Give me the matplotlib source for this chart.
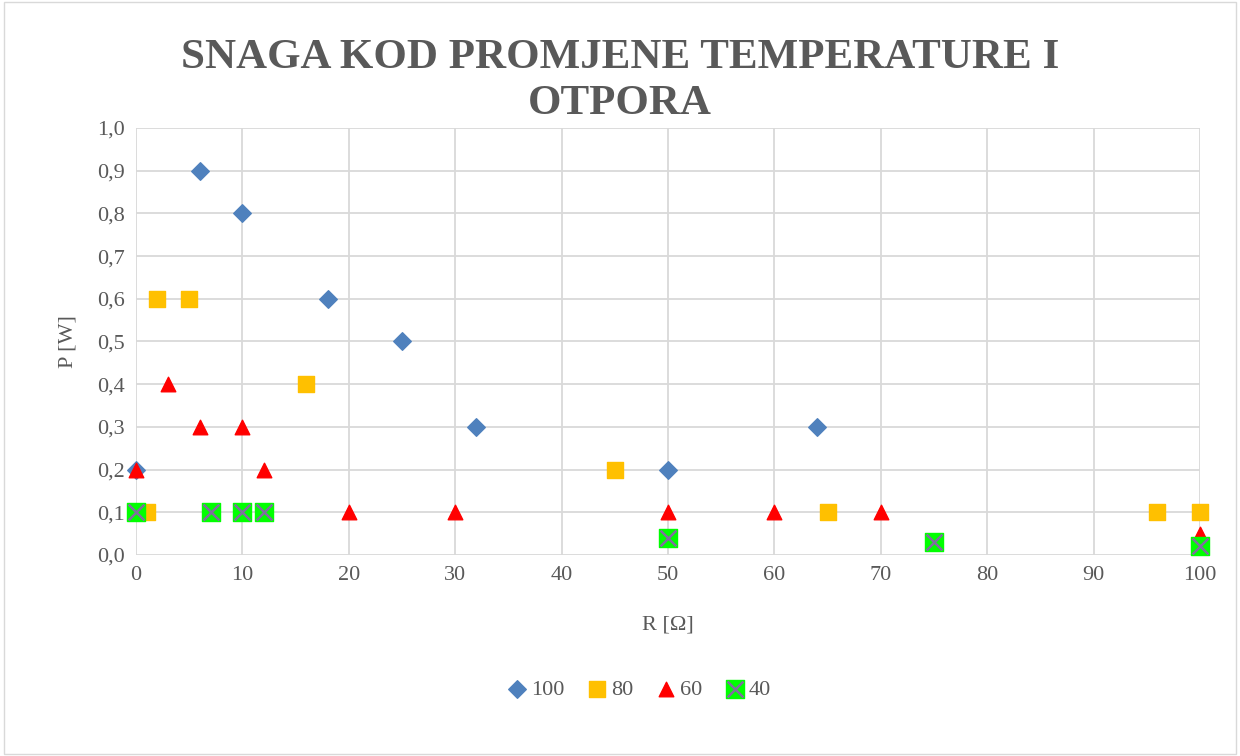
import numpy as np
import matplotlib
matplotlib.use('Agg')
import matplotlib.pyplot as plt
from matplotlib.ticker import FuncFormatter, MultipleLocator
from matplotlib.legend_handler import HandlerTuple

# ============================================================
# DATA
# ============================================================
r_100 = [0, 6, 10, 18, 25, 32, 50, 64]
p_100 = [0.2, 0.9, 0.8, 0.6, 0.5, 0.3, 0.2, 0.3]

r_80 = [1, 2, 5, 16, 45, 65, 96, 100]
p_80 = [0.1, 0.6, 0.6, 0.4, 0.2, 0.1, 0.1, 0.1]

r_60 = [0, 3, 6, 10, 12, 20, 30, 50, 60, 70, 100]
p_60 = [0.2, 0.4, 0.3, 0.3, 0.2, 0.1, 0.1, 0.1, 0.1, 0.1, 0.05]

r_40 = [0, 7, 10, 12, 50, 75, 100]
p_40 = [0.1, 0.1, 0.1, 0.1, 0.04, 0.03, 0.02]

series_labels = ['100', '80', '60', '40']

# ============================================================
# PLOT
# ============================================================
plt.rcParams['font.family'] = ['Liberation Serif', 'DejaVu Serif']
text_col = '#595959'
grid_col = '#d9d9d9'

fig = plt.figure(figsize=(12.4, 7.56), dpi=100)
ax = fig.add_axes([0.1097, 0.2659, 0.858, 0.5648])

h100 = ax.scatter(r_100, p_100, marker='D', s=80, color='#4f81bd', zorder=3, clip_on=False)
h80 = ax.scatter(r_80, p_80, marker='s', s=140, color='#ffc000', zorder=4, clip_on=False)
h60 = ax.scatter(r_60, p_60, marker='^', s=110, color='#ff0000', zorder=5, clip_on=False)
h40a = ax.scatter(r_40, p_40, marker='s', s=165, color='#00ff00', zorder=6, clip_on=False)
h40b = ax.scatter(r_40, p_40, marker='x', s=130, color='#7f6f9f',
                  linewidths=1.8, zorder=7, clip_on=False)

ax.set_xlim(0, 100)
ax.set_ylim(0, 1.0)
ax.xaxis.set_major_locator(MultipleLocator(10))
ax.yaxis.set_major_locator(MultipleLocator(0.1))
ax.yaxis.set_major_formatter(FuncFormatter(lambda v, p: f'{v:.1f}'.replace('.', ',')))
ax.grid(True, color=grid_col, linewidth=1.3)
ax.set_axisbelow(True)
for s in ax.spines.values():
    s.set_visible(False)
ax.tick_params(length=0, labelsize=16, colors=text_col, pad=8)

ax.set_xlabel('R [Ω]', fontsize=16, color=text_col, labelpad=22)
ax.set_ylabel('P [W]', fontsize=16, color=text_col, labelpad=14)

fig.text(0.5, 0.893, 'SNAGA KOD PROMJENE TEMPERATURE I\nOTPORA',
         ha='center', va='center', fontsize=31, fontweight='bold',
         color=text_col, linespacing=1.25)

fig.legend([h100, h80, h60, (h40a, h40b)], series_labels,
           loc='center', bbox_to_anchor=(0.514, 0.088), ncol=4, frameon=False,
           fontsize=16, labelcolor=text_col, handletextpad=0.0,
           columnspacing=0.9, handlelength=1.2,
           handler_map={tuple: HandlerTuple(ndivide=1, pad=0)})

fig.patches.append(plt.Rectangle((0.003, 0.003), 0.994, 0.994, transform=fig.transFigure,
                                 fill=False, edgecolor=grid_col, linewidth=1))

plt.savefig('out.png', dpi=100)
